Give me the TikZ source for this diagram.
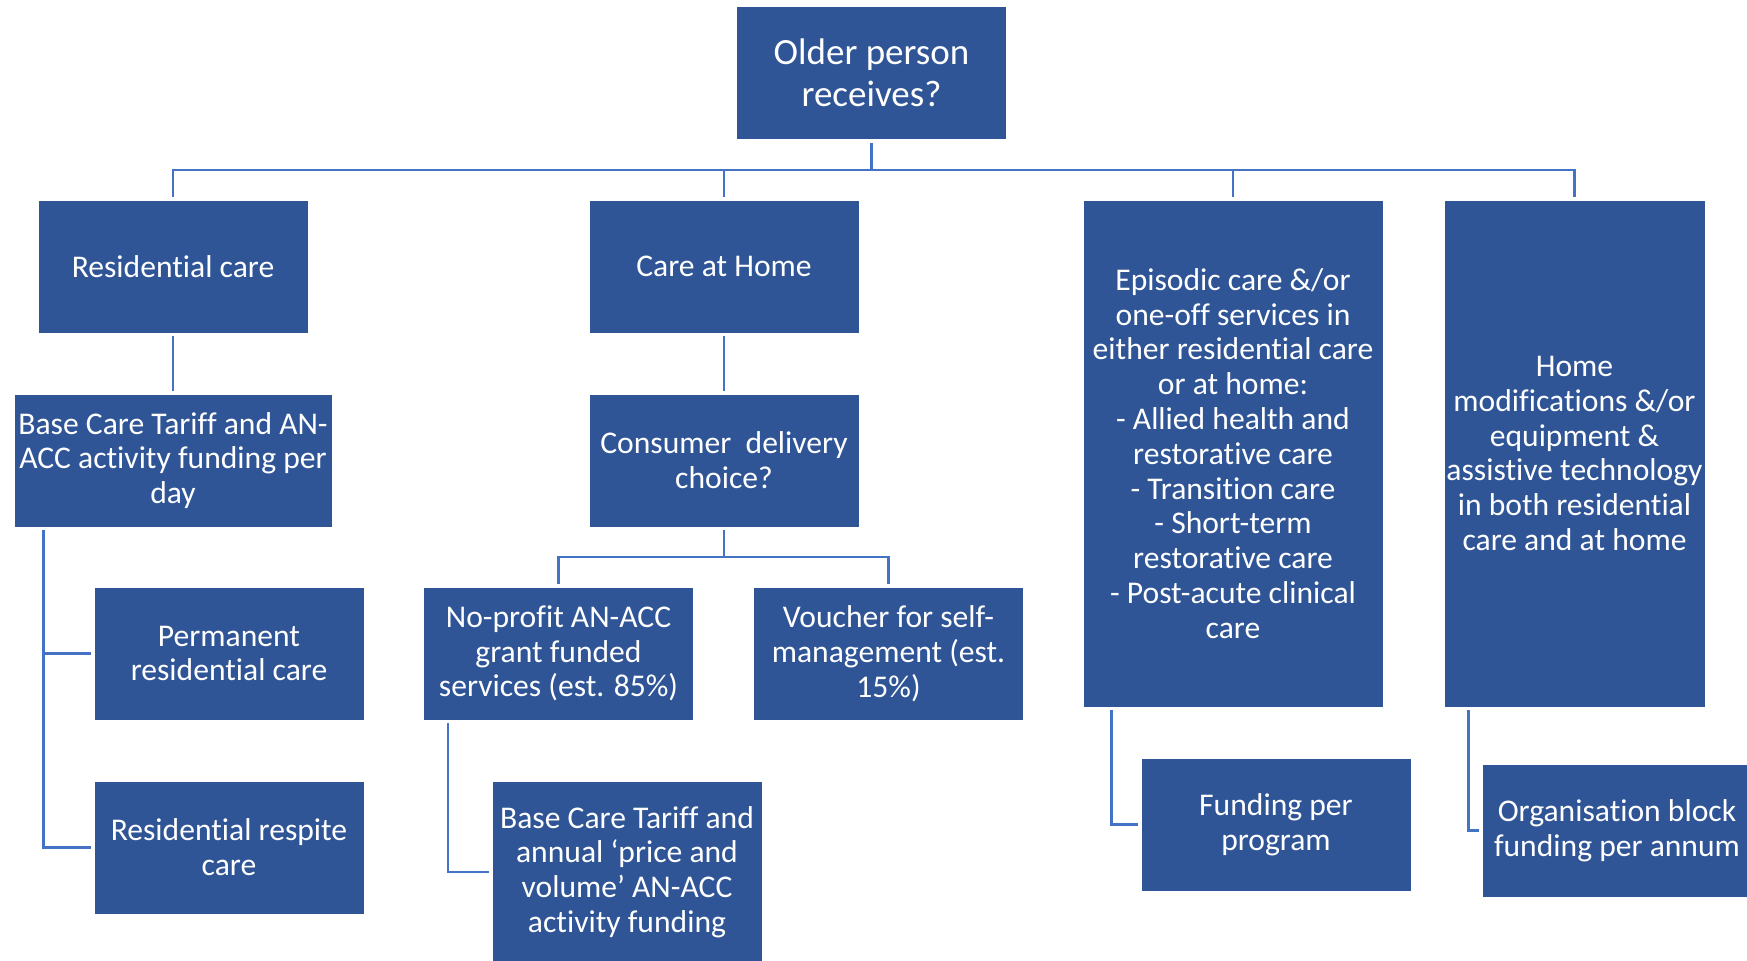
\documentclass[tikz,border=0pt]{standalone}
\usepackage{fontspec}
\setmainfont[RawFeature={-liga;-clig;-calt;-dlig}]{Carlito}
\definecolor{boxblue}{HTML}{2F5597}
\definecolor{lineblue}{HTML}{4472C4}

\begin{document}
\begin{tikzpicture}[x=0.5pt,y=-0.5pt,
  box/.style={draw=white,line width=0.4pt,fill=boxblue,text=white,align=center,
    inner sep=0pt,minimum width=135pt,minimum height=66.5pt,
    font=\fontsize{15.8}{17.4}\selectfont},
  link/.style={draw=lineblue,line width=1.2pt}]
\useasboundingbox (0,0) rectangle (1747,960);
\node[box,font=\fontsize{18.5}{21}\selectfont] (older) at (871.5,73) {Older person\\receives?};
\node[box] (rescare) at (173,266.5) {Residential care};
\node[box] (homecare) at (724,266.5) {Care at Home};
\node[box,minimum width=150pt,minimum height=253.5pt] (episodic) at (1233,453.5)
  {Episodic care \&/or\\one-off services in\\either residential care\\or at home:\\- Allied health and\\restorative care\\- Transition care\\- Short-term\\restorative care\\- Post-acute clinical\\care};
\node[box,minimum width=130.5pt,minimum height=253.5pt] (homemods) at (1574.5,453.5)
  {Home\\modifications \&/or\\equipment \&\\assistive technology\\in both residential\\care and at home};
\node[box,minimum width=159pt] (basedaily) at (173,460.5) {Base Care Tariff and AN-\\ACC activity funding per\\day};
\node[box] (choice) at (724,460.5) {Consumer\ \ delivery\\choice?};
\node[box] (permanent) at (229,653.5) {Permanent\\residential care};
\node[box] (respite) at (229,847.5) {Residential respite\\care};
\node[box] (noprofit) at (558.5,653.5) {No-profit AN-ACC\\grant funded\\services (est. 85\%)};
\node[box] (voucher) at (888.5,653.5) {Voucher for self-\\management (est.\\15\%)};
\node[box,minimum height=91pt] (baseannual) at (627,872) {Base Care Tariff and\\annual ‘price and\\volume’ AN-ACC\\activity funding};
\node[box] (perprogram) at (1276,824.5) {Funding per\\program};
\node[box] (block) at (1617,830.5) {Organisation block\\funding per annum};

\coordinate (bus) at (0,170);
\coordinate (subbus) at (0,557);
\coordinate (restap) at ([xshift=15pt]basedaily.south west);
\coordinate (nptap) at ([xshift=12.5pt]noprofit.south west);
\coordinate (eptap) at ([xshift=14.5pt]episodic.south west);
\coordinate (hmtap) at ([xshift=12.5pt]homemods.south west);

\draw[link,shorten <=1.5pt] (older.south) -- (older.south|-bus);
\foreach \n in {rescare,homecare,episodic,homemods}
  \draw[link,shorten >=1.5pt] (older.south|-bus) -| (\n.north);
\draw[link,shorten <=1.5pt,shorten >=1.5pt] (rescare) -- (basedaily);
\draw[link,shorten <=1.5pt,shorten >=1.5pt] (homecare) -- (choice);
\draw[link,shorten <=1.5pt] (choice.south) -- (choice.south|-subbus);
\foreach \n in {noprofit,voucher}
  \draw[link,shorten >=1.5pt] (choice.south|-subbus) -| (\n.north);
\draw[link,shorten <=1.5pt,shorten >=1.5pt] (restap) |- (permanent.west);
\draw[link,shorten <=1.5pt,shorten >=1.5pt] (restap) |- (respite.west);
\draw[link,shorten <=1.5pt,shorten >=1.5pt] (nptap) |- (baseannual.west);
\draw[link,shorten <=1.5pt,shorten >=1.5pt] (eptap) |- (perprogram.west);
\draw[link,shorten <=1.5pt,shorten >=1.5pt] (hmtap) |- (block.west);
\end{tikzpicture}
\end{document}
